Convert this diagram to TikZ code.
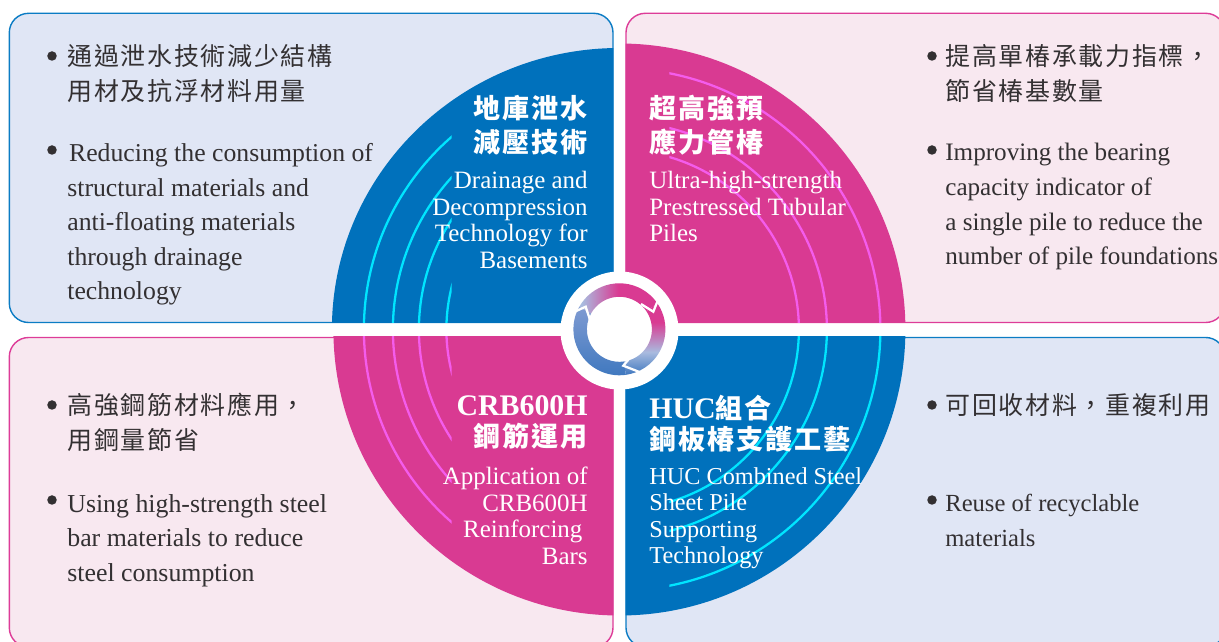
\documentclass[tikz,border=0pt]{standalone}
\usepackage{fontspec}
\setmainfont{Liberation Serif}
\newfontfamily\cjkfont[LetterSpace=7]{Noto Sans CJK TC}
\newcommand{\cjktitle}{\cjkfont\fontsize{15.4}{19.4}\selectfont}
\usetikzlibrary{positioning}
\definecolor{quadblue}{HTML}{0071BC}
\definecolor{quadpink}{HTML}{D93A92}
\definecolor{paneblue}{HTML}{E0E6F5}
\definecolor{panepink}{HTML}{F8E8F0}
\definecolor{lineblue}{HTML}{0B7CC4}
\definecolor{linepink}{HTML}{DD3C98}
\definecolor{arccyan}{HTML}{00E5FF}
\definecolor{arcpink}{HTML}{F45CEC}
\definecolor{bodygray}{HTML}{333032}
\definecolor{ringblue}{HTML}{3F78BF}
\definecolor{ringlight}{HTML}{A9BBDF}
\definecolor{ringmid}{HTML}{7F9BD2}
\pgfdeclarehorizontalshading{ringtop}{100bp}{color(0bp)=(ringlight); color(27bp)=(ringlight); color(50bp)=(quadpink); color(100bp)=(quadpink)}
\pgfdeclareverticalshading{ringside}{100bp}{color(0bp)=(ringblue); color(25bp)=(ringblue); color(41bp)=(ringlight); color(62bp)=(quadpink); color(100bp)=(quadpink)}
\tikzset{
    bluepane/.style={
    rounded corners=11pt,draw=lineblue,fill=paneblue,line width=0.8pt
    },
    pinkpane/.style={
    rounded corners=11pt,draw=linepink,fill=panepink,line width=0.8pt
    },
    cyanarc/.style={
    draw=arccyan,line width=1.3pt
    },
    pinkarc/.style={
    draw=arcpink,line width=1.3pt
    },
    zigzag/.style={
    draw=white,line width=1.3pt,miter limit=10
    },
    dotmark/.style={
    circle,fill=bodygray,inner sep=0pt,minimum size=0.19cm
    },
    cnbody/.style={
    inner sep=0pt,anchor=north west,align=left,text=bodygray,font=\cjkfont\fontsize{14.2}{20}\selectfont
    },
    enbody/.style={
    inner sep=0pt,anchor=north west,align=left,text=bodygray,font=\fontsize{14.5}{19.7}\selectfont
    },
    titleleft/.style={
    inner sep=0pt,anchor=north west,align=left,text=white,font=\bfseries\fontsize{17}{19.4}\selectfont
    },
    titleright/.style={
    inner sep=0pt,anchor=north east,align=right,text=white,font=\bfseries\fontsize{17}{19.4}\selectfont
    },
    subleft/.style={
    inner sep=0pt,anchor=north west,align=left,text=white,font=\fontsize{14.2}{15.1}\selectfont
    },
    subright/.style={
    inner sep=0pt,anchor=north east,align=right,text=white,font=\fontsize{14.2}{15.1}\selectfont
    },
}

\begin{document}
\begin{tikzpicture}
   \path[use as bounding box,clip] (0,0) rectangle (24.38,12.84);
   \coordinate (quadc) at (12.388,6.25);
   \coordinate (ringc) at (12.388,6.254);

   \path[bluepane] (0.186,6.39) rectangle (12.26,12.574);
   \path[pinkpane] (12.52,6.39) rectangle (24.5,12.574);
   \path[pinkpane] (0.186,-0.1) rectangle (12.26,6.09);
   \path[bluepane] (12.52,-0.1) rectangle (24.5,6.09);

   \begin{scope}
     \clip (6,6.386) rectangle (12.266,13);
     \fill[quadblue] (quadc) ellipse (5.75 and 5.63);
     \clip (6,6.386) rectangle (9.034,13);
     \draw[cyanarc] (quadc) circle (5.11);
     \draw[cyanarc] (quadc) circle (4.53);
     \draw[cyanarc] (quadc) circle (4.01);
     \draw[cyanarc] (quadc) circle (3.46);
   \end{scope}
   \begin{scope}
     \clip (12.51,6.386) rectangle (19,13);
     \fill[quadpink] (quadc) circle (5.72);
     \clip (13.386,6.386) rectangle (19,13);
     \draw[pinkarc] (quadc) circle (5.22);
     \draw[pinkarc] (quadc) circle (4.15);
     \draw[pinkarc] (quadc) circle (3.59);
   \end{scope}
   \begin{scope}
     \clip (6,0) rectangle (12.266,6.106);
     \fill[quadpink] (quadc) circle (5.72);
     \clip (6,0) rectangle (9.034,6.106);
     \draw[pinkarc] (quadc) circle (5.11);
     \draw[pinkarc] (quadc) circle (4.53);
     \draw[pinkarc] (quadc) circle (4.01);
     \draw[pinkarc] (quadc) circle (3.46);
   \end{scope}
   \begin{scope}
     \clip (12.51,0) rectangle (19,6.106);
     \fill[quadblue] (quadc) circle (5.72);
     \clip (13.386,0) rectangle (19,6.106);
     \draw[cyanarc] (quadc) circle (5.22);
     \draw[cyanarc] (quadc) circle (4.15);
     \draw[cyanarc] (quadc) circle (3.59);
   \end{scope}

   \node[circle,fill=white,inner sep=0pt,minimum size=2.36cm] (hub) at (12.39,6.23) {};
   \shade[shading=ringtop]
     ([shift={(ringc)}]151:0.92) arc (151:34:0.92) -- ([shift={(ringc)}]34:0.65) arc (34:151:0.65) -- cycle;
   \shade[shading=ringside]
     ([shift={(ringc)}]34:0.92) arc (34:-82:0.92) -- ([shift={(ringc)}]-82:0.65) arc (-82:34:0.65) -- cycle;
   \shade[top color=ringmid,bottom color=ringblue]
     ([shift={(ringc)}]151:0.92) arc (151:278:0.92) -- ([shift={(ringc)}]278:0.65) arc (278:151:0.65) -- cycle;
   \coordinate (zra) at (13.16,6.84);
   \coordinate (zrb) at (13.066,6.606);
   \coordinate (zrc) at (12.82,6.76);
   \coordinate (zla) at (11.48,6.60);
   \coordinate (zlb) at (11.714,6.706);
   \coordinate (zlc) at (11.80,6.44);
   \coordinate (zba) at (12.84,5.38);
   \coordinate (zbb) at (12.466,5.526);
   \coordinate (zbc) at (12.68,5.78);
   \draw[zigzag] (zra) -- (zrb) -- (zrc);
   \draw[zigzag] (zla) -- (zlb) -- (zlc);
   \draw[zigzag] (zba) -- (zbb) -- (zbc);

   \node[titleright] (tla) at (11.76,10.94) {\cjktitle 地庫泄水\\\cjktitle 減壓技術};
   \node[subright] (tlb) at (11.76,9.42) {Drainage and\\Decompression\\Technology for\\Basements};
   \node[titleleft] (tra) at (12.98,10.94) {\cjktitle 超高強預\\\cjktitle 應力管椿};
   \node[subleft] (trb) at (12.98,9.42) {Ultra-high-strength\\Prestressed Tubular\\Piles};
   \node[titleright] (bla) at (11.76,4.94) {CRB600H\\[-1.7pt]\cjktitle 鋼筋運用};
   \node[subright] (blb) at (11.76,3.50) {Application of\\CRB600H\\Reinforcing\kern3pt\\Bars};
   \node[titleleft] (bra) at (12.98,4.94) {HUC{\cjktitle 組合}\\[-1.7pt]\cjktitle 鋼板椿支護工藝};
   \node[subleft,font=\fontsize{13.8}{15.1}\selectfont] (brb) at (12.98,3.50) {HUC Combined Steel\\Sheet Pile\\Supporting\\Technology};

   \node[dotmark] (d1) at (1.04,11.72) {};
   \node[cnbody] (t1) at (1.34,11.96) {通過泄水技術減少結構\\用材及抗浮材料用量};
   \node[dotmark] (d2) at (1.04,9.84) {};
   \node[enbody,font=\fontsize{14.65}{19.7}\selectfont] (t2) at (1.34,9.98) {\kern1pt Reducing the consumption of\\structural materials and\\anti-floating materials\\through drainage\\technology};

   \node[dotmark] (d3) at (18.64,11.72) {};
   \node[cnbody] (t3) at (18.9,11.96) {提高單椿承載力指標，\\節省椿基數量};
   \node[dotmark] (d4) at (18.64,9.84) {};
   \node[enbody,font=\fontsize{14.3}{19.7}\selectfont] (t4) at (18.9,9.98) {Improving the bearing\\capacity indicator of\\a single pile to reduce the\\number of pile foundations};

   \node[dotmark] (d5) at (1.04,4.74) {};
   \node[cnbody] (t5) at (1.34,4.98) {高強鋼筋材料應用，\\用鋼量節省};
   \node[dotmark] (d6) at (1.04,2.84) {};
   \node[enbody,font=\fontsize{14.7}{19.7}\selectfont] (t6) at (1.34,2.96) {Using high-strength steel\\bar materials to reduce\\steel consumption};

   \node[dotmark] (d7) at (18.64,4.74) {};
   \node[cnbody] (t7) at (18.9,4.98) {可回收材料，重複利用};
   \node[dotmark] (d8) at (18.64,2.84) {};
   \node[enbody,font=\fontsize{14}{19.7}\selectfont] (t8) at (18.9,2.96) {Reuse of recyclable\\materials};
\end{tikzpicture}
\end{document}
